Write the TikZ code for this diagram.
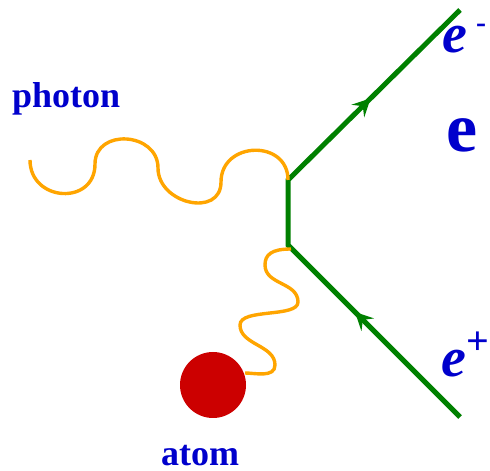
\documentclass[tikz,border=0pt]{standalone}
\usepackage{fontspec}
\setmainfont{Liberation Serif}
\usetikzlibrary{calc}
\definecolor{fgreen}{RGB}{0,128,0}
\definecolor{forange}{RGB}{255,165,0}
\definecolor{fred}{RGB}{204,0,0}
\definecolor{fblue}{RGB}{0,0,204}
\tikzset{
  fermion/.style={draw=fgreen, line width=5pt, line join=miter},
  photonline/.style={draw=forange, line width=3.4pt},
  lbl/.style={text=fblue, inner sep=0pt, anchor=base west},
  arrowhead/.style={fill=fgreen, draw=none},
  atomball/.style={fill=fred, draw=none}
}
\begin{document}
\begin{tikzpicture}[x=1pt,y=1pt]
\useasboundingbox (0,0) rectangle (490,471);
% vertices and ends
\coordinate (v1) at (288,291);
\coordinate (v2) at (288,226);
\coordinate (eout) at (460,461);
\coordinate (pin) at (460,54);
% fermion lines
\draw[fermion] (eout) -- (v1) -- (v2) -- (pin);
\coordinate (ta) at ($(v1)!0.48!(eout)$);
\coordinate (tb) at ($(pin)!0.61!(v2)$);
\fill[arrowhead, shift={(ta)}, rotate=45] (0,0) -- (-18,9) -- (-11,0) -- (-18,-9) -- cycle;
\fill[arrowhead, shift={(tb)}, rotate=135] (0,0) -- (-18,9) -- (-11,0) -- (-18,-9) -- cycle;
% photon
\coordinate (ph0) at (30,311);
\coordinate (ph1) at (95,307);
\coordinate (ph2) at (158,303);
\coordinate (ph3) at (221,289);
\draw[photonline] (ph0) .. controls +(0,-42) and +(0,-42) .. (ph1)
  .. controls +(0,36) and +(0,36) .. (ph2)
  .. controls +(0,-36) and +(0,-36) .. (ph3)
  .. controls +(0,41) and +(0,41) .. (v1);
% atom
\node[atomball, circle, minimum size=66pt, inner sep=0pt] (atom) at (213,86) {};
% virtual photon to atom
\coordinate (w0) at (291,222);
\coordinate (w1) at (265,206);
\coordinate (w2) at (298,169);
\coordinate (w3) at (240,146);
\coordinate (w4) at (275,106);
\coordinate (w5) at (245,98);
\draw[photonline] (w0) .. controls +(-20,0) and +(0,10) .. (w1)
  .. controls +(0,-20) and +(0,20) .. (w2)
  .. controls +(0,-16) and +(0,17) .. (w3)
  .. controls +(0,-20) and +(0,20) .. (w4)
  .. controls +(0,-13) and +(10,0) .. (w5);
% labels
\node[lbl, font=\fontsize{36}{36}\selectfont\bfseries] (photonlbl) at (12,363) {photon};
\node[lbl, font=\fontsize{36}{36}\selectfont\bfseries] (atomlbl) at (161,5) {atom};
\node[lbl, font=\fontsize{70}{70}\selectfont\bfseries] (elbl) at (446,319) {e};
\node[lbl, font=\fontsize{56}{56}\selectfont\bfseries\itshape] (emlbl) at (442,418)
  {e\hspace{9pt}\raisebox{20pt}{\fontsize{30}{30}\selectfont\upshape -}};
\node[lbl, font=\fontsize{56}{56}\selectfont\bfseries\itshape] (eplbl) at (441,94)
  {e\raisebox{22pt}{\fontsize{40}{40}\selectfont\upshape +}};
\end{tikzpicture}
\end{document}
